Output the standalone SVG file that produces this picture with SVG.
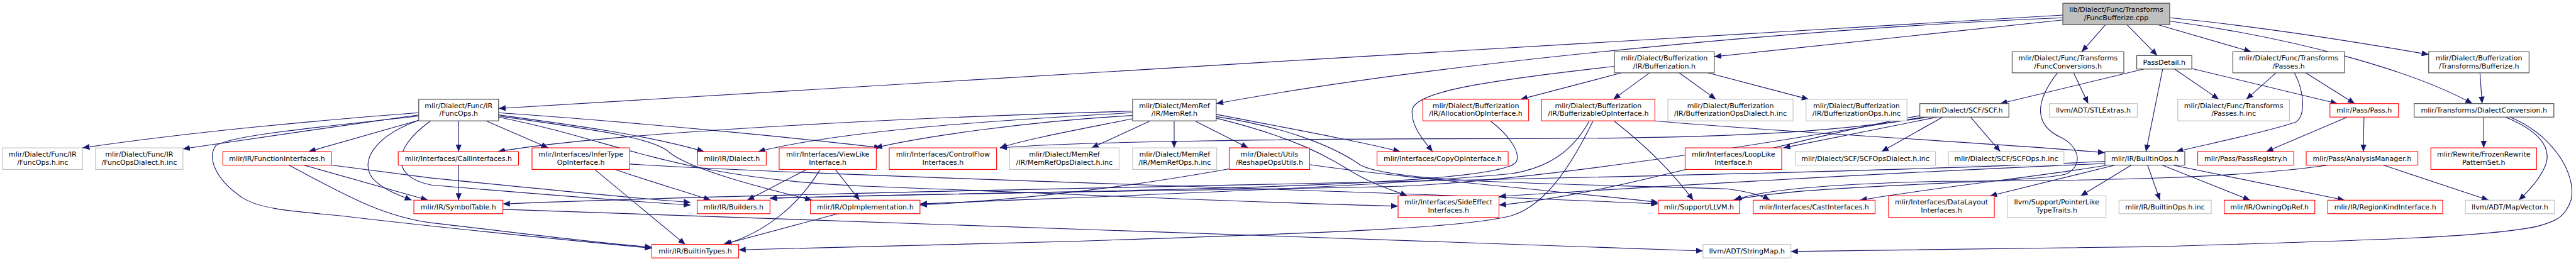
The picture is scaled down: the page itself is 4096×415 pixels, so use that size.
<svg xmlns="http://www.w3.org/2000/svg" width="4096" height="415" viewBox="0 0 4096 415">
<style>
.k rect{fill:#fff;stroke:#404040;stroke-width:1.3}
.r rect{fill:#fff;stroke:#ff0000;stroke-width:1.3}
.g rect{fill:#fff;stroke:#bfbfbf;stroke-width:1.3}
.m rect{fill:#bfbfbf;stroke:#404040;stroke-width:1.3}
text{font-family:"DejaVu Sans","Liberation Sans",sans-serif;font-size:12.9px;text-anchor:middle;fill:#000}
#edges path{fill:none;stroke:#191970;stroke-width:1.3;marker-end:url(#a)}
</style>
<defs>
<marker id="a" markerWidth="13" markerHeight="11" refX="13" refY="5.5" orient="auto" markerUnits="userSpaceOnUse"><path d="M0,0 L13,5.5 L0,11 z" fill="#191970" stroke="none"/></marker>
</defs>
<rect width="4096" height="415" fill="#fff"/>
<g transform="scale(0.85798)">
<g id="edges">
<path d="M3823,28 C3000,70 1700,160 924,201"/>
<path d="M3823,33 C3400,50 2700,110 2254,192"/>
<path d="M3823,37 L3177,105"/>
<path d="M3902,46 L3858,96"/>
<path d="M3942,46 L3998,103"/>
<path d="M4000,46 L4172,96"/>
<path d="M4021,33 C4200,50 4380,80 4501,101"/>
<path d="M4021,39 C4250,70 4470,130 4582,192"/>
<path d="M3005,135 L2818,184"/>
<path d="M3057,135 L2990,184"/>
<path d="M3112,135 L3180,184"/>
<path d="M3165,135 L3352,184"/>
<path d="M2992,123 C2750,150 2620,170 2617,205 C2615,235 2640,262 2655,281"/>
<path d="M3843,135 L3870,192"/>
<path d="M3813,135 C3770,190 3770,232 3820,255 C3855,272 3860,308 3830,322 C3780,340 3350,340 3212,371"/>
<path d="M3973,128 L3707,192"/>
<path d="M4030,128 L4112,184"/>
<path d="M4062,127 L4332,192"/>
<path d="M4008,128 L3977,281"/>
<path d="M4218,135 L4163,184"/>
<path d="M4273,135 L4364,192"/>
<path d="M4252,135 C4272,172 4272,215 4255,226 C4200,245 4100,265 4033,281"/>
<path d="M4596,135 L4600,192"/>
<path d="M4350,217 L4200,281"/>
<path d="M4381,217 L4380,281"/>
<path d="M4603,217 L4603,274"/>
<path d="M4643,217 C4700,240 4730,270 4718,305 C4708,330 4690,350 4668,371"/>
<path d="M4652,217 C4730,250 4775,320 4765,370 C4755,400 4740,410 4700,420 C4600,440 4400,445 4000,457 C3700,463 3500,465 3319,466"/>
<path d="M4417,306 L4612,371"/>
<path d="M4315,306 C4150,330 3900,335 3600,336 C3400,340 3260,352 3215,371"/>
<path d="M3920,306 L3688,363"/>
<path d="M3950,306 L3856,363"/>
<path d="M3980,306 L4003,371"/>
<path d="M4007,306 L4170,371"/>
<path d="M4027,306 L4345,371"/>
<path d="M3905,306 C3800,325 3600,345 3447,371"/>
<path d="M3901,303 C3500,320 3000,350 2778,364"/>
<path d="M3901,299 C3300,330 1600,350 932,378"/>
<path d="M3600,217 L3487,281"/>
<path d="M3652,217 L3707,281"/>
<path d="M3590,217 L3305,274"/>
<path d="M3573,217 C3400,245 3200,257 2800,257 C2400,257 2000,262 1853,274"/>
<path d="M3565,217 C3300,260 2900,330 2600,345 C2200,355 1700,357 1427,368"/>
<path d="M3560,214 C3300,260 3000,360 2778,380"/>
<path d="M3067,224 C3300,245 3700,265 3901,283"/>
<path d="M2992,225 C3050,270 3100,320 3138,371"/>
<path d="M2952,225 C2920,290 2870,380 2800,400 C2700,425 2400,433 2000,447 C1700,455 1500,460 1369,463"/>
<path d="M2945,225 C2920,270 2880,310 2800,322 C2500,350 2000,365 1705,378"/>
<path d="M2763,225 C2790,245 2820,280 2810,300 C2790,330 2500,345 2000,355 C1800,360 1600,362 1427,367"/>
<path d="M2130,225 L2023,274"/>
<path d="M2176,225 L2176,274"/>
<path d="M2216,225 L2313,274"/>
<path d="M2254,212 C2400,240 2520,262 2595,281"/>
<path d="M2254,216 C2380,235 2470,270 2520,305 C2580,340 2900,340 3200,350 C3240,355 3265,362 3280,371"/>
<path d="M2254,219 C2400,255 2460,290 2500,315 C2540,340 2580,352 2608,363"/>
<path d="M2099,206 C1600,220 1100,250 923,281"/>
<path d="M2099,209 C1800,225 1550,245 1405,281"/>
<path d="M2099,214 C1900,225 1700,255 1622,274"/>
<path d="M2099,220 C2000,240 1900,258 1853,274"/>
<path d="M776,209 C600,222 350,245 153,274"/>
<path d="M776,213 C650,230 450,260 339,276"/>
<path d="M776,223 L572,281"/>
<path d="M850,224 L850,281"/>
<path d="M901,224 L1016,274"/>
<path d="M924,213 C1050,230 1200,250 1305,281"/>
<path d="M924,209 C1200,228 1500,258 1633,274"/>
<path d="M924,215 C1100,240 1210,255 1240,282 C1280,315 1420,350 1505,371"/>
<path d="M776,223 C700,250 665,295 690,330 C710,352 740,362 763,371"/>
<path d="M798,224 C720,280 730,330 800,343 C1000,360 1200,375 1280,380"/>
<path d="M924,217 C1150,262 1250,330 1600,345 C2000,360 2300,375 2591,382"/>
<path d="M776,215 C600,235 430,250 400,270 C385,290 395,330 450,367 C480,385 520,390 633,400 C800,420 1000,440 1208,460"/>
<path d="M563,306 L793,371"/>
<path d="M535,306 C620,350 700,400 800,413 C950,430 1100,450 1208,458"/>
<path d="M614,306 L800,330 C1000,350 1200,370 1280,375"/>
<path d="M850,306 L850,371"/>
<path d="M1102,314 L1270,453"/>
<path d="M1140,314 C1200,335 1270,355 1317,371"/>
<path d="M1167,304 C1600,330 2600,355 3073,378"/>
<path d="M1495,314 L1385,371"/>
<path d="M1520,314 C1480,380 1420,430 1343,453"/>
<path d="M1548,314 L1593,371"/>
<path d="M1553,396 L1340,453"/>
<path d="M2278,313 C2100,345 1900,370 1705,380"/>
<path d="M2427,305 C2600,330 2900,355 3073,375"/>
<path d="M932,388 C1500,410 2500,440 3156,465"/>
</g>
<g id="n0" class="m"><rect x="3823" y="6" width="198" height="40"/><text x="3922" y="22">lib/Dialect/Func/Transforms</text><text x="3922" y="37">/FuncBufferize.cpp</text></g>
<g id="n1" class="k"><rect x="776" y="184" width="148" height="40"/><text x="850" y="200">mlir/Dialect/Func/IR</text><text x="850" y="215">/FuncOps.h</text></g>
<g id="n2" class="k"><rect x="2099" y="184" width="155" height="40"/><text x="2176.5" y="200">mlir/Dialect/MemRef</text><text x="2176.5" y="215">/IR/MemRef.h</text></g>
<g id="n3" class="k"><rect x="2992" y="96" width="185" height="39"/><text x="3084.5" y="112">mlir/Dialect/Bufferization</text><text x="3084.5" y="127">/IR/Bufferization.h</text></g>
<g id="n4" class="k"><rect x="3729" y="96" width="207" height="39"/><text x="3832.5" y="112">mlir/Dialect/Func/Transforms</text><text x="3832.5" y="127">/FuncConversions.h</text></g>
<g id="n5" class="k"><rect x="3960" y="103" width="102" height="25"/><text x="4011" y="120">PassDetail.h</text></g>
<g id="n6" class="k"><rect x="4138" y="96" width="207" height="39"/><text x="4241.5" y="112">mlir/Dialect/Func/Transforms</text><text x="4241.5" y="127">/Passes.h</text></g>
<g id="n7" class="k"><rect x="4501" y="96" width="186" height="39"/><text x="4594" y="112">mlir/Dialect/Bufferization</text><text x="4594" y="127">/Transforms/Bufferize.h</text></g>
<g id="n8" class="r"><rect x="2637" y="184" width="196" height="40"/><text x="2735" y="200">mlir/Dialect/Bufferization</text><text x="2735" y="215">/IR/AllocationOpInterface.h</text></g>
<g id="n9" class="r"><rect x="2857" y="184" width="210" height="40"/><text x="2962" y="200">mlir/Dialect/Bufferization</text><text x="2962" y="215">/IR/BufferizableOpInterface.h</text></g>
<g id="n10" class="g"><rect x="3091" y="184" width="232" height="40"/><text x="3207" y="200">mlir/Dialect/Bufferization</text><text x="3207" y="215">/IR/BufferizationOpsDialect.h.inc</text></g>
<g id="n11" class="g"><rect x="3347" y="184" width="187" height="40"/><text x="3440.5" y="200">mlir/Dialect/Bufferization</text><text x="3440.5" y="215">/IR/BufferizationOps.h.inc</text></g>
<g id="n12" class="k"><rect x="3558" y="192" width="165" height="25"/><text x="3640.5" y="209">mlir/Dialect/SCF/SCF.h</text></g>
<g id="n13" class="g"><rect x="3798" y="192" width="163" height="25"/><text x="3879.5" y="209">llvm/ADT/STLExtras.h</text></g>
<g id="n14" class="g"><rect x="4036" y="184" width="207" height="40"/><text x="4139.5" y="200">mlir/Dialect/Func/Transforms</text><text x="4139.5" y="215">/Passes.h.inc</text></g>
<g id="n15" class="r"><rect x="4318" y="192" width="127" height="25"/><text x="4381.5" y="209">mlir/Pass/Pass.h</text></g>
<g id="n16" class="k"><rect x="4474" y="192" width="259" height="25"/><text x="4603.5" y="209">mlir/Transforms/DialectConversion.h</text></g>
<g id="n17" class="g"><rect x="5" y="274" width="148" height="40"/><text x="79" y="290">mlir/Dialect/Func/IR</text><text x="79" y="305">/FuncOps.h.inc</text></g>
<g id="n18" class="g"><rect x="177" y="274" width="162" height="40"/><text x="258" y="290">mlir/Dialect/Func/IR</text><text x="258" y="305">/FuncOpsDialect.h.inc</text></g>
<g id="n19" class="r"><rect x="413" y="281" width="201" height="25"/><text x="513.5" y="298">mlir/IR/FunctionInterfaces.h</text></g>
<g id="n20" class="r"><rect x="738" y="281" width="223" height="25"/><text x="849.5" y="298">mlir/Interfaces/CallInterfaces.h</text></g>
<g id="n21" class="r"><rect x="986" y="274" width="181" height="40"/><text x="1076.5" y="290">mlir/Interfaces/InferType</text><text x="1076.5" y="305">OpInterface.h</text></g>
<g id="n22" class="r"><rect x="1293" y="281" width="127" height="25"/><text x="1356.5" y="298">mlir/IR/Dialect.h</text></g>
<g id="n23" class="r"><rect x="1444" y="274" width="180" height="40"/><text x="1534" y="290">mlir/Interfaces/ViewLike</text><text x="1534" y="305">Interface.h</text></g>
<g id="n24" class="r"><rect x="1648" y="274" width="199" height="40"/><text x="1747.5" y="290">mlir/Interfaces/ControlFlow</text><text x="1747.5" y="305">Interfaces.h</text></g>
<g id="n25" class="g"><rect x="1871" y="274" width="203" height="40"/><text x="1972.5" y="290">mlir/Dialect/MemRef</text><text x="1972.5" y="305">/IR/MemRefOpsDialect.h.inc</text></g>
<g id="n26" class="g"><rect x="2099" y="274" width="156" height="40"/><text x="2177" y="290">mlir/Dialect/MemRef</text><text x="2177" y="305">/IR/MemRefOps.h.inc</text></g>
<g id="n27" class="r"><rect x="2278" y="274" width="149" height="40"/><text x="2352.5" y="290">mlir/Dialect/Utils</text><text x="2352.5" y="305">/ReshapeOpsUtils.h</text></g>
<g id="n28" class="r"><rect x="2552" y="281" width="243" height="25"/><text x="2673.5" y="298">mlir/Interfaces/CopyOpInterface.h</text></g>
<g id="n29" class="r"><rect x="3123" y="274" width="179" height="40"/><text x="3212.5" y="290">mlir/Interfaces/LoopLike</text><text x="3212.5" y="305">Interface.h</text></g>
<g id="n30" class="g"><rect x="3327" y="281" width="260" height="25"/><text x="3457" y="298">mlir/Dialect/SCF/SCFOpsDialect.h.inc</text></g>
<g id="n31" class="g"><rect x="3611" y="281" width="214" height="25"/><text x="3718" y="298">mlir/Dialect/SCF/SCFOps.h.inc</text></g>
<g id="n32" class="k"><rect x="3901" y="281" width="148" height="25"/><text x="3975" y="298">mlir/IR/BuiltinOps.h</text></g>
<g id="n33" class="r"><rect x="4073" y="281" width="178" height="25"/><text x="4162" y="298">mlir/Pass/PassRegistry.h</text></g>
<g id="n34" class="r"><rect x="4274" y="281" width="207" height="25"/><text x="4377.5" y="298">mlir/Pass/AnalysisManager.h</text></g>
<g id="n35" class="r"><rect x="4505" y="274" width="196" height="40"/><text x="4603" y="290">mlir/Rewrite/FrozenRewrite</text><text x="4603" y="305">PatternSet.h</text></g>
<g id="n36" class="r"><rect x="767" y="371" width="165" height="25"/><text x="849.5" y="388">mlir/IR/SymbolTable.h</text></g>
<g id="n37" class="r"><rect x="1292" y="371" width="135" height="25"/><text x="1359.5" y="388">mlir/IR/Builders.h</text></g>
<g id="n38" class="r"><rect x="1502" y="371" width="203" height="25"/><text x="1603.5" y="388">mlir/IR/OpImplementation.h</text></g>
<g id="n39" class="r"><rect x="2591" y="363" width="187" height="40"/><text x="2684.5" y="379">mlir/Interfaces/SideEffect</text><text x="2684.5" y="394">Interfaces.h</text></g>
<g id="n40" class="r"><rect x="3073" y="371" width="151" height="25"/><text x="3148.5" y="388">mlir/Support/LLVM.h</text></g>
<g id="n41" class="r"><rect x="3249" y="371" width="226" height="25"/><text x="3362" y="388">mlir/Interfaces/CastInterfaces.h</text></g>
<g id="n42" class="r"><rect x="3500" y="363" width="196" height="40"/><text x="3598" y="379">mlir/Interfaces/DataLayout</text><text x="3598" y="394">Interfaces.h</text></g>
<g id="n43" class="g"><rect x="3720" y="363" width="183" height="40"/><text x="3811.5" y="379">llvm/Support/PointerLike</text><text x="3811.5" y="394">TypeTraits.h</text></g>
<g id="n44" class="g"><rect x="3927" y="371" width="171" height="25"/><text x="4012.5" y="388">mlir/IR/BuiltinOps.h.inc</text></g>
<g id="n45" class="r"><rect x="4122" y="371" width="168" height="25"/><text x="4206" y="388">mlir/IR/OwningOpRef.h</text></g>
<g id="n46" class="r"><rect x="4314" y="371" width="213" height="25"/><text x="4420.5" y="388">mlir/IR/RegionKindInterface.h</text></g>
<g id="n47" class="g"><rect x="4569" y="371" width="165" height="25"/><text x="4651.5" y="388">llvm/ADT/MapVector.h</text></g>
<g id="n48" class="r"><rect x="1208" y="453" width="161" height="25"/><text x="1288.5" y="470">mlir/IR/BuiltinTypes.h</text></g>
<g id="n49" class="g"><rect x="3156" y="453" width="163" height="25"/><text x="3237.5" y="470">llvm/ADT/StringMap.h</text></g>
</g>
</svg>
